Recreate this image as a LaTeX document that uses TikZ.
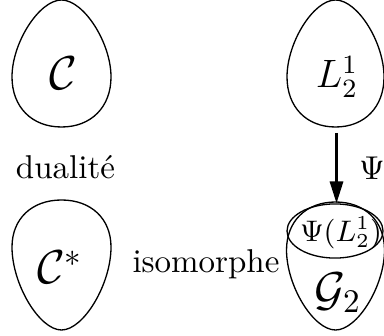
\documentclass[tikz,border=0pt]{standalone}
\usetikzlibrary{arrows.meta,positioning,shapes.geometric}
\tikzset{
  eggline/.style={draw=black, line width=0.4pt},
  lbl/.style={inner sep=0pt, font=\normalsize},
  setbig/.style={inner sep=0pt, font=\Large},
  setmid/.style={inner sep=0pt, font=\large},
  psiarr/.style={-{Triangle[length=6.6pt,width=4pt]}, line width=0.7pt},
  imgbox/.style={draw, ellipse, inner sep=0pt, minimum width=29.1pt, minimum height=16.4pt},
  pics/egg/.style n args={3}{code={
    \draw[eggline] (0,-#1) .. controls (22,-#1) and (#3,-0.45*#1) .. (#3,0)
      .. controls (#3,0.6*#2) and (0.6*#3,#2) .. (0,#2)
      .. controls (-0.6*#3,#2) and (-#3,0.6*#2) .. (-#3,0)
      .. controls (-#3,-0.45*#1) and (-22,-#1) .. cycle;}}
}
\begin{document}
\begin{tikzpicture}[x=0.303pt, y=-0.303pt]
  \useasboundingbox (0,0) rectangle (384,335);
  % the four sets
  \pic at (61.5,77) {egg={77}{50}{49.5}};
  \pic at (335.5,77) {egg={77}{50}{48.5}};
  \pic[yscale=-1] at (61.5,247) {egg={83}{47}{49.5}};
  \pic[yscale=-1] at (335.5,250) {egg={80}{48}{49}};
  \node[setbig] (calC) at (63,73) {$\mathcal{C}$};
  \node[setmid] (L21) at (337,77) {$L_2^1$};
  \node[setbig] (calCs) at (60,267) {$\mathcal{C}^*$};
  \node[setbig] (G2) at (338,293) {$\mathcal{G}_2$};
  % image of L under Psi
  \node[imgbox] (psiE) at (335,231) {};
  \node[lbl, font=\small] (psiL) at (341,233) {$\Psi(L_2^1)$};
  % labels
  \node[lbl, anchor=base] (dual) at (65.5,179) {dualit\'e};
  \node[lbl, anchor=base] (iso) at (206,272) {isomorphe};
  \node[lbl, anchor=base] (psi) at (372,180) {$\Psi$};
  \coordinate (Lbot) at (336.5,127);
  \draw[psiarr] ([yshift=-1.8pt]Lbot) -- (psiE.north -| Lbot);
\end{tikzpicture}
\end{document}
